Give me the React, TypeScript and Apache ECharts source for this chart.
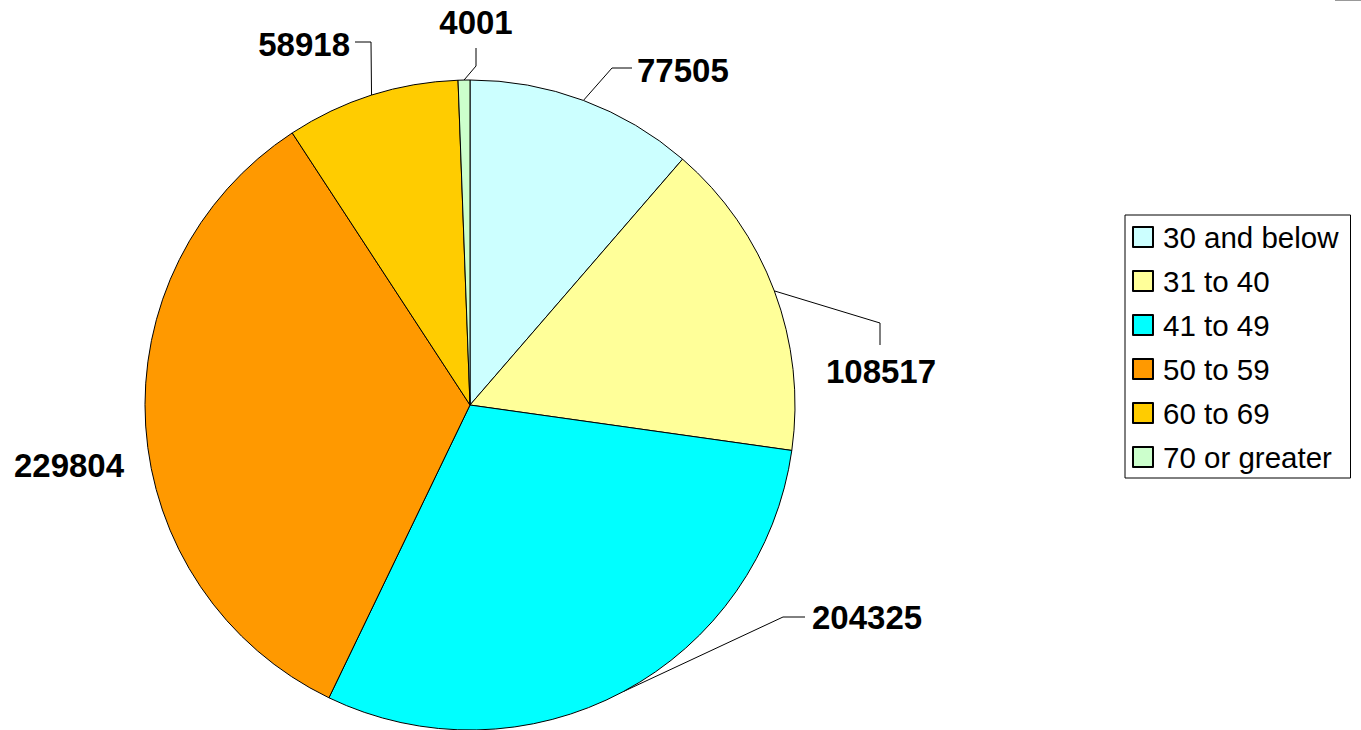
import React, { useEffect, useRef } from "react";
import * as echarts from "echarts";

const categories = ["30 and below", "31 to 40", "41 to 49", "50 to 59", "60 to 69", "70 or greater"];
const values = [77505, 108517, 204325, 229804, 58918, 4001];
const colors = ["#CCFFFF", "#FFFF99", "#00FFFF", "#FF9900", "#FFCC00", "#CCFFCC"];

// label placement (pixels) and leader-line bend/end points
const labelLayouts = [
  { x: 637, y: 70, align: "left", pts: [[612, 68], [632, 68]] },
  { x: 881, y: 371, align: "center", pts: [[880, 323], [880, 345]] },
  { x: 812, y: 617, align: "left", pts: [[783, 617], [805, 617]] },
  { x: 69, y: 465, align: "center", pts: null },
  { x: 350, y: 44, align: "right", pts: [[371, 42], [355, 42]] },
  { x: 476, y: 22, align: "center", pts: [[476, 66], [476, 48]] },
];

export default function App() {
  const ref = useRef<HTMLDivElement>(null);
  useEffect(() => {
    if (!ref.current) return;
    const chart = echarts.init(ref.current, null, { renderer: "svg" });
    chart.setOption({
      animation: false,
      backgroundColor: "#ffffff",
      legend: {
        orient: "vertical",
        left: 1125,
        top: 215,
        width: 233,
        borderColor: "#000",
        borderWidth: 1,
        padding: [7, 12, 6, 7],
        itemWidth: 20,
        itemHeight: 20,
        itemGap: 14,
        icon: "rect",
        selectedMode: false,
        data: categories,
        textStyle: {
          fontFamily: "'Liberation Sans', Arial, sans-serif",
          fontSize: 29.5,
          color: "#000",
          lineHeight: 29,
          padding: [0, 0, 0, 5],
        },
      },
      graphic: [
        { type: "line", shape: { x1: 1335, y1: 0.5, x2: 1361, y2: 0.5 }, style: { stroke: "#999", lineWidth: 1 } },
      ],
      series: [
        {
          type: "pie",
          center: [470, 405],
          radius: 325,
          startAngle: 90,
          clockwise: true,
          silent: true,
          avoidLabelOverlap: false,
          itemStyle: { borderColor: "#000", borderWidth: 1 },
          label: {
            show: true,
            position: "outside",
            formatter: "{c}",
            color: "#000",
            fontFamily: "'Liberation Sans', Arial, sans-serif",
            fontWeight: "bold",
            fontSize: 33,
          },
          labelLine: { show: true, length: 20, length2: 20, lineStyle: { color: "#000", width: 1 } },
          labelLayout: (params: any) => {
            const l = labelLayouts[params.dataIndex];
            const out: any = { x: l.x, y: l.y, align: l.align, verticalAlign: "middle" };
            if (l.pts && params.labelLinePoints) {
              out.labelLinePoints = [params.labelLinePoints[0], l.pts[0], l.pts[1]];
            }
            return out;
          },
          data: values.map((v, i) => ({
            name: categories[i],
            value: v,
            itemStyle: { color: colors[i] },
            labelLine: { show: labelLayouts[i].pts !== null },
          })),
        },
      ],
    });
    return () => chart.dispose();
  }, []);
  return (
    <div
      ref={ref}
      style={{ position: "fixed", left: 0, top: 0, width: 1361, height: 730 }}
    />
  );
}
